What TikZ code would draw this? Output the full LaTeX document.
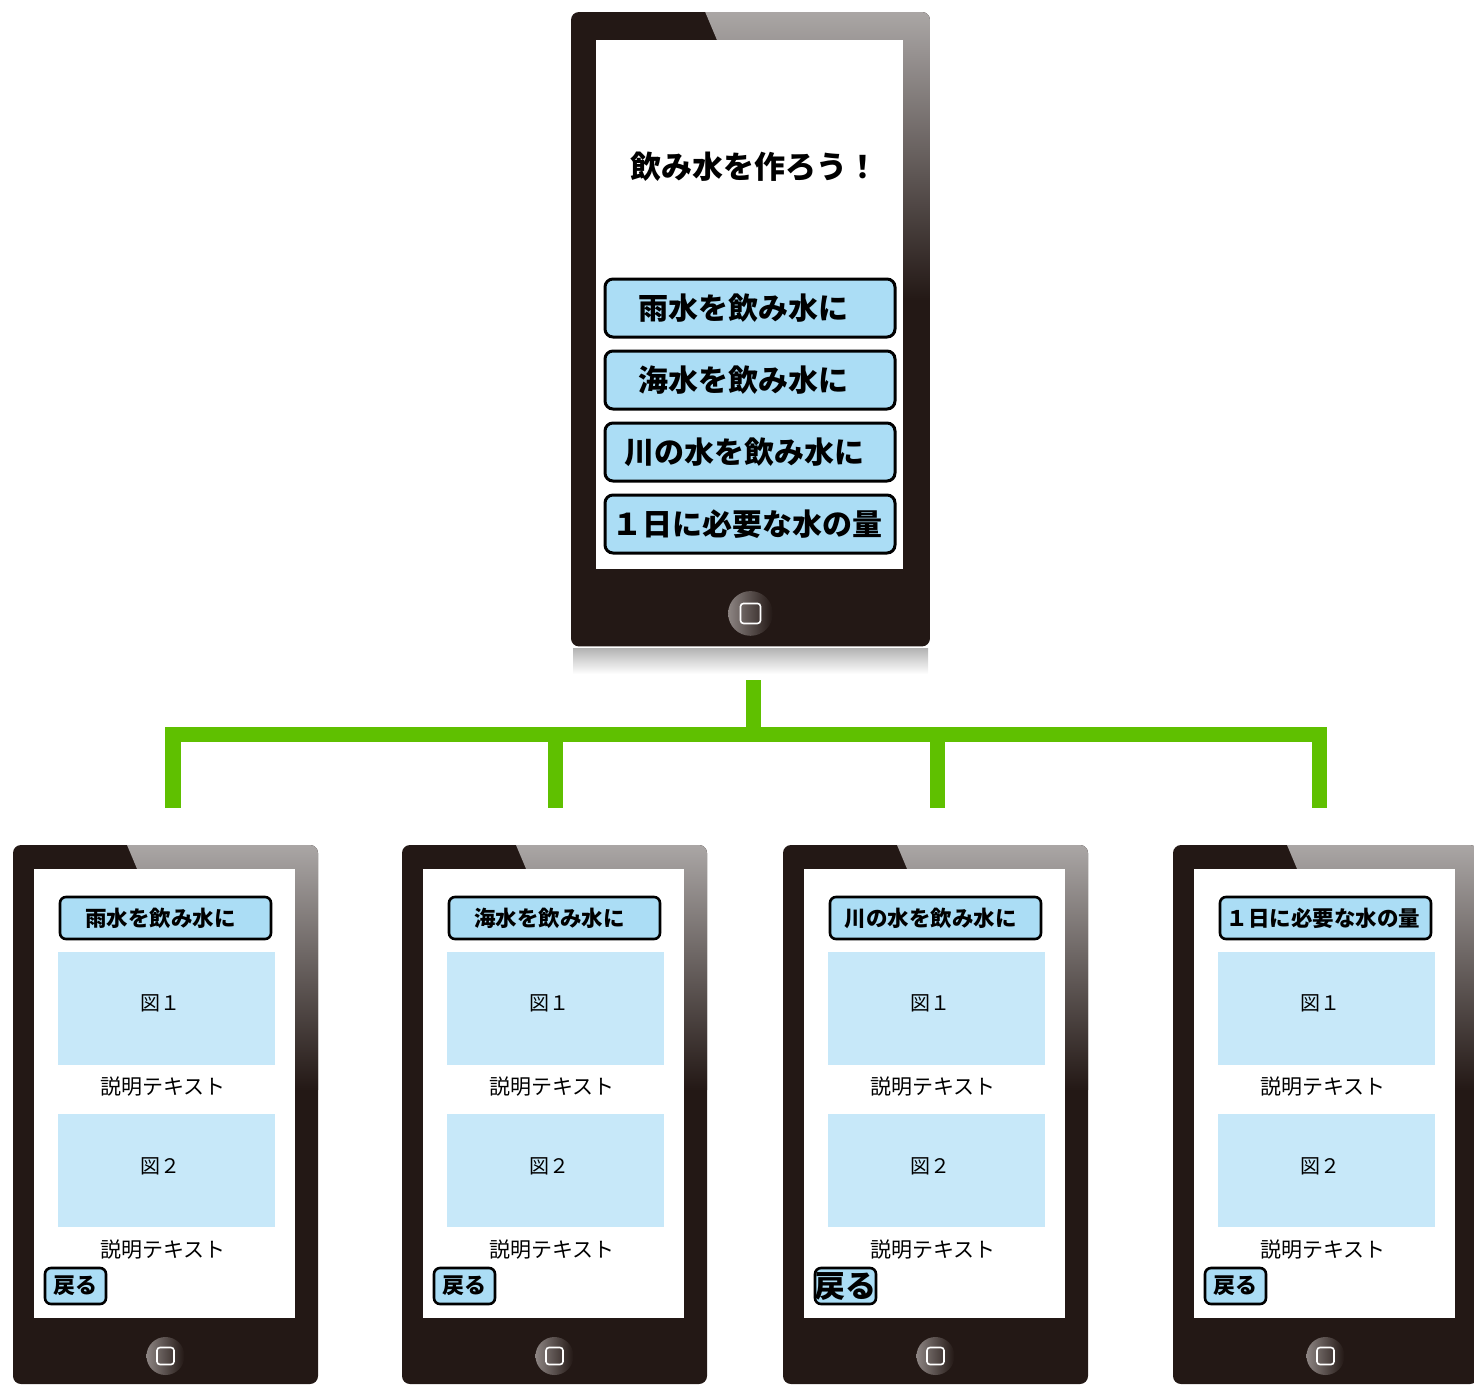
\documentclass[tikz,border=0pt]{standalone}
\usepackage{fontspec}
\newfontfamily\jp{Noto Sans CJK JP}
\newfontfamily\jpbold{Noto Sans CJK JP Black}
\usetikzlibrary{calc}
\definecolor{bodyblack}{RGB}{35,24,21}
\definecolor{bezelgray}{RGB}{170,166,165}
\definecolor{homegray}{RGB}{140,132,130}
\definecolor{btnblue}{RGB}{171,221,245}
\definecolor{figblue}{RGB}{199,232,249}
\definecolor{linkgreen}{RGB}{95,192,0}

\begin{document}
\begin{tikzpicture}[x=1pt,y=-1pt]
	\tikzstyle{menubtn}=[draw=black, line width=3pt, fill=btnblue, rounded corners=8pt, minimum width=290pt, minimum height=58pt, inner sep=0pt]
	\tikzstyle{menutext}=[inner sep=0pt, font=\jpbold\fontsize{30}{30}\selectfont]
	\tikzstyle{titlebtn}=[draw=black, line width=2.6pt, fill=btnblue, rounded corners=6pt, minimum width=211pt, minimum height=42pt, inner sep=0pt]
	\tikzstyle{titletext}=[inner sep=0pt, font=\jpbold\fontsize{21.5}{21.5}\selectfont]
	\tikzstyle{backbtn}=[draw=black, line width=2.6pt, fill=btnblue, rounded corners=6pt, minimum width=61pt, minimum height=36pt, inner sep=0pt]
	\tikzstyle{figbox}=[fill=figblue, minimum width=217pt, minimum height=113pt, inner sep=0pt]
	\tikzstyle{figtext}=[inner sep=0pt, font=\jp\fontsize{20}{20}\selectfont]
	\tikzstyle{caption}=[inner sep=0pt, font=\jp\fontsize{21}{21}\selectfont]
	\tikzstyle{link}=[linkgreen, line width=15.5pt]

	\newcommand{\smartphone}[3]{
		\begin{scope}[shift={(#1,#2)}, scale=#3]
			\fill [bodyblack, rounded corners=8pt] (0,0) rectangle (305,539);
			\begin{scope}
				\clip [rounded corners=8pt] (0,0) rectangle (305,539);
				\shade [top color=bezelgray, middle color=bezelgray!55!bodyblack, bottom color=bodyblack] (114,0) -- (305,0) -- (305,245) -- (217,245) -- cycle;
			\end{scope}
			\fill [white] (21,24) rectangle (282,473);
			\shade [left color=homegray, middle color=bodyblack, right color=bodyblack] (152.5,511) circle (19);
			\draw [white, line width=1.6pt, rounded corners=3pt] (144,502.5) rectangle (161,519.5);
		\end{scope}
	}

	\useasboundingbox (0,0) rectangle (1474,1384);

	\shade [top color=black!30, bottom color=white] (573,648) rectangle (928,674);
	\smartphone{571}{12}{1.177}

	\node (title) [inner sep=0pt, font=\jpbold\fontsize{31}{31}\selectfont] at (754,167) {飲み水を作ろう！};
	\node (menu1) [menubtn] at (750,308) {};
	\node (menu2) [menubtn] at (750,380) {};
	\node (menu3) [menubtn] at (750,452) {};
	\node (menu4) [menubtn] at (750,524) {};
	\node [menutext] at ($(menu1)+(-7,0)$) {雨水を飲み水に};
	\node [menutext] at ($(menu2)+(-7,0)$) {海水を飲み水に};
	\node [menutext] at ($(menu3)+(-6,0)$) {川の水を飲み水に};
	\node [menutext] at ($(menu4)+(-3,0)$) {１日に必要な水の量};

	\foreach \X/\ttl/\n/\bk/\dx in {13/雨水を飲み水に/1/22/-5, 402/海水を飲み水に/2/22/-5, 783/川の水を飲み水に/3/31/-5, 1173/１日に必要な水の量/4/22/-2}{
		\smartphone{\X}{845}{1}
		\node (head\n) [titlebtn] at (\X+152.5,918) {};
		\node [titletext] at ($(head\n)+(\dx,0)$) {\ttl};
		\node (figa\n) [figbox] at (\X+153.5,1008) {};
		\node [figtext] at ($(figa\n)+(-6,-5)$) {図１};
		\node (capa\n) [caption] at (\X+150,1087) {説明テキスト};
		\node (figb\n) [figbox] at (\X+153.5,1170.5) {};
		\node [figtext] at ($(figb\n)+(-6,-4.5)$) {図２};
		\node (capb\n) [caption] at (\X+150,1250) {説明テキスト};
		\node (back\n) [backbtn] at (\X+62.5,1286) {};
		\node [inner sep=0pt, font=\jpbold\fontsize{\bk}{\bk}\selectfont] at (back\n) {戻る};
	}

	\coordinate (root) at (753.5,680);
	\coordinate (bus) at (753.5,734.5);
	\coordinate (leaf1) at (173,808);
	\coordinate (leaf2) at (555.5,808);
	\coordinate (leaf3) at (937.5,808);
	\coordinate (leaf4) at (1319.5,808);

	\draw [link] (root) -- (bus);
	\draw [link] (leaf1) -- (leaf1 |- bus) -- (leaf4 |- bus) -- (leaf4);
	\draw [link] (leaf2 |- bus) -- (leaf2);
	\draw [link] (leaf3 |- bus) -- (leaf3);
\end{tikzpicture}
\end{document}
